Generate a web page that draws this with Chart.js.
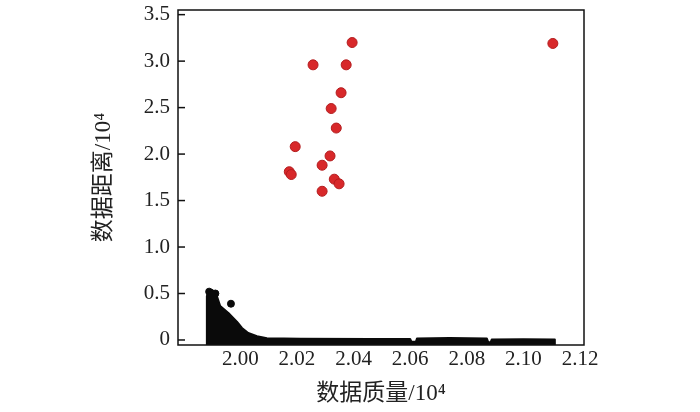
<!DOCTYPE html>
<html>
<head>
<meta charset="utf-8">
<script src="https://cdn.jsdelivr.net/npm/chart.js@4.4.0/dist/chart.umd.min.js"></script>
<style>
html, body { margin: 0; padding: 0; background: #fff; }
</style>
</head>
<body>
<canvas id="chart" width="700" height="412"></canvas>
<script>
// Puntos anómalos (rojos)
const redX = [2.0395, 2.0257, 2.0374, 2.0356, 2.0321, 2.0339, 2.0194, 2.0317, 2.0289, 2.0173, 2.0180, 2.0332, 2.0349, 2.0289, 2.1104];
const redY = [3.20, 2.96, 2.96, 2.66, 2.49, 2.28, 2.08, 1.98, 1.88, 1.81, 1.78, 1.73, 1.68, 1.60, 3.19];

// Borde superior de la nube negra de puntos normales
const massX = [1.9882, 1.9882, 1.9887, 1.9901, 1.9915, 1.9929, 1.9958, 1.9988, 2.0006, 2.0028, 2.0059, 2.0094, 2.0212, 2.0459, 2.0600, 2.0605, 2.0620, 2.0624, 2.0740, 2.0871, 2.0876, 2.0884, 2.0888, 2.1000, 2.1111, 2.1111];
const massY = [-0.055, 0.47, 0.526, 0.537, 0.494, 0.365, 0.29, 0.197, 0.129, 0.075, 0.04, 0.018, 0.012, 0.01, 0.01, -0.02, -0.02, 0.015, 0.02, 0.015, -0.025, -0.025, 0.005, 0.008, 0.005, -0.055];

// Puntos negros sueltos en el borde de la nube
const dotX = [1.9890, 1.9912, 1.9967];
const dotY = [0.52, 0.50, 0.39];

const xTicks = [2.00, 2.02, 2.04, 2.06, 2.08, 2.10, 2.12];
const yTicks = [0, 0.5, 1.0, 1.5, 2.0, 2.5, 3.0, 3.5];

const fuente = "'Liberation Serif', 'Noto Sans CJK SC', serif";

const toXY = (xs, ys) => xs.map((x, i) => ({ x: x, y: ys[i] }));

// Marco de la gráfica y marcas hacia dentro en el eje Y
const marcoPlugin = {
    id: 'marco',
    afterDatasetsDraw(chart) {
        const { ctx, chartArea: a, scales } = chart;
        ctx.save();
        ctx.strokeStyle = '#111';
        ctx.lineWidth = 1.5;
        ctx.strokeRect(a.left, a.top, a.right - a.left, a.bottom - a.top);
        yTicks.forEach(v => {
            const y = scales.y.getPixelForValue(v);
            ctx.beginPath();
            ctx.moveTo(a.left, y);
            ctx.lineTo(a.left + 7, y);
            ctx.stroke();
        });
        ctx.restore();
    }
};

new Chart(document.getElementById('chart'), {
    type: 'scatter',
    data: {
        datasets: [
            {
                type: 'line',
                data: toXY(massX, massY),
                borderColor: '#0a0a0a',
                backgroundColor: '#0a0a0a',
                borderWidth: 2,
                borderJoinStyle: 'round',
                fill: 'start',
                tension: 0,
                pointRadius: 0
            },
            {
                data: toXY(dotX, dotY),
                backgroundColor: '#0a0a0a',
                borderColor: '#0a0a0a',
                pointRadius: 3.5
            },
            {
                data: toXY(redX, redY),
                backgroundColor: '#d8282a',
                borderColor: '#b31d1f',
                borderWidth: 1,
                pointRadius: 5
            }
        ]
    },
    options: {
        responsive: false,
        animation: false,
        layout: { padding: { left: 90, right: 116, top: 10, bottom: 4 } },
        plugins: {
            legend: { display: false },
            tooltip: { enabled: false }
        },
        scales: {
            x: {
                type: 'linear',
                min: 1.978,
                max: 2.1214,
                afterBuildTicks: s => { s.ticks = xTicks.map(v => ({ value: v })); },
                afterFit: s => { s.height = 63; },
                grid: { display: false, drawTicks: false },
                border: { display: false },
                ticks: {
                    color: '#222',
                    padding: 2,
                    font: { family: fuente, size: 21 },
                    callback: v => v.toFixed(2)
                },
                title: {
                    display: true,
                    text: '数据质量/10⁴',
                    color: '#222',
                    font: { family: fuente, size: 23 },
                    padding: { top: 0, bottom: 0 }
                }
            },
            y: {
                type: 'linear',
                min: -0.054,
                max: 3.55,
                afterBuildTicks: s => { s.ticks = yTicks.map(v => ({ value: v })); },
                afterFit: s => { s.width = 88; s.paddingTop = 0; s.paddingBottom = 0; },
                grid: { display: false, drawTicks: false },
                border: { display: false },
                ticks: {
                    color: '#222',
                    padding: 8,
                    font: { family: fuente, size: 21 },
                    callback: v => (v === 0 ? '0' : v.toFixed(1))
                },
                title: {
                    display: true,
                    text: '数据距离/10⁴',
                    color: '#222',
                    font: { family: fuente, size: 23 },
                    padding: { top: 0, bottom: 0 }
                }
            }
        }
    },
    plugins: [marcoPlugin]
});
</script>
</body>
</html>
